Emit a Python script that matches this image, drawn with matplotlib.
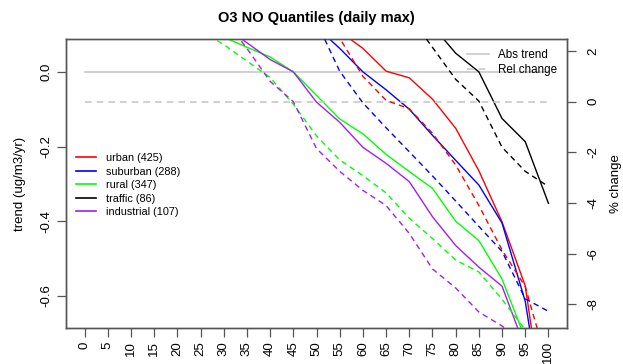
import numpy as np
import matplotlib
matplotlib.use("Agg")
import matplotlib.pyplot as plt
from matplotlib.lines import Line2D

nan = np.nan

quantiles = list(range(0, 101, 5))
tick_labels = [str(q) for q in quantiles]

# absolute trend (ug/m3/yr) per quantile
urban_abs = [nan, nan, nan, nan, nan, nan, nan, nan, nan, nan,
             0.16, 0.108, 0.063, 0.002, -0.016, -0.073, -0.151, -0.265, -0.402, -0.573, -1.0]
suburban_abs = [nan, nan, nan, nan, nan, nan, nan, nan, nan, nan,
                0.12, 0.063, 0.0, -0.048, -0.100, -0.170, -0.237, -0.303, -0.405, -0.615, -1.0]
rural_abs = [nan, nan, nan, nan, nan, 0.13,
             0.093, 0.066, 0.040, 0.0, -0.063, -0.126, -0.166, -0.221, -0.267, -0.312, -0.400, -0.452, -0.555, -0.715, -0.95]
traffic_abs = [nan, nan, nan, nan, nan, nan, nan, nan, nan, nan, nan, nan, nan, nan,
               0.2, 0.123, 0.050, 0.0, -0.125, -0.187, -0.352]
industrial_abs = [nan, nan, nan, nan, nan, nan,
                  0.123, 0.078, 0.033, 0.0, -0.081, -0.135, -0.202, -0.245, -0.294, -0.388, -0.465, -0.523, -0.574, -0.74, -0.95]

# relative change (%) per quantile
urban_rel = [nan, nan, nan, nan, nan, nan, nan, nan, nan, nan,
             4.2, 2.5, 1.0, 0.05, -0.28, -1.25, -2.5, -4.1, -5.85, -7.3, -10.5]
suburban_rel = [nan, nan, nan, nan, nan, nan, nan, nan, nan, nan,
                3.15, 1.2, -0.05, -1.03, -1.98, -2.93, -3.92, -4.92, -5.91, -7.78, -8.27]
rural_rel = [nan, nan, nan, nan, nan, 2.8,
             2.25, 1.6, 0.95, -0.1, -1.35, -2.3, -2.92, -3.6, -4.6, -5.4, -6.25, -6.72, -7.8, -9.0, -10.0]
traffic_rel = [nan, nan, nan, nan, nan, nan, nan, nan, nan, nan, nan, nan, nan, nan,
               3.4, 2.14, 0.88, 0.02, -1.8, -2.75, -3.35]
industrial_rel = [nan, nan, nan, nan, nan, nan,
                  3.3, 2.1, 0.8, 0.0, -1.85, -2.75, -3.5, -4.1, -5.2, -6.6, -7.35, -8.3, -8.85, -9.6, -10.5]

groups = ["urban", "suburban", "rural", "traffic", "industrial"]
counts = [425, 288, 347, 86, 107]
colors = ["#FF0000", "#0000FF", "#00FF00", "#000000", "#A020F0"]
abs_series = [urban_abs, suburban_abs, rural_abs, traffic_abs, industrial_abs]
rel_series = [urban_rel, suburban_rel, rural_rel, traffic_rel, industrial_rel]

plt.rcParams['font.family'] = ['Liberation Sans', 'DejaVu Sans']

fig = plt.figure(figsize=(6.23, 3.64), dpi=100)
ax = fig.add_axes([66 / 623, 1 - 328 / 364, (567 - 66) / 623, (328 - 39) / 364])
ax2 = ax.twinx()

edge = "#555555"
grey = "#C8C8C8"
dash = (0, (4, 3))

ax.set_xlim(-4, 104)
ax.set_ylim(-0.686, 0.088)
ax2.set_ylim(-8.93, 2.47)

# reference lines
ax.plot([quantiles[0], quantiles[-1]], [0, 0], color=grey, lw=1.2, zorder=1)
ax2.plot([quantiles[0], quantiles[-1]], [0, 0], color=grey, lw=1.2, ls=dash, zorder=1)

for vals, col in zip(abs_series, colors):
    ax.plot(quantiles, vals, color=col, lw=1.0, zorder=3)
for vals, col in zip(rel_series, colors):
    ax2.plot(quantiles, vals, color=col, lw=1.0, ls=dash, zorder=3)

ax.set_xticks(quantiles)
ax.set_xticklabels(tick_labels, rotation=90, fontsize=9.5)
ax.set_yticks([-0.6, -0.4, -0.2, 0.0])
ax.set_yticklabels(["-0.6", "-0.4", "-0.2", "0.0"], rotation=90, va="center", fontsize=9.5)
ax2.set_yticks([-8, -6, -4, -2, 0, 2])
ax2.set_yticklabels(["-8", "-6", "-4", "-2", "0", "2"], rotation=90, va="center", fontsize=9.5)

for a in (ax, ax2):
    for s in a.spines.values():
        s.set_color(edge)
        s.set_linewidth(1.0)
    a.tick_params(length=6.5, width=0.9, color=edge, pad=3)
ax2.tick_params(axis="y", pad=8)

ax.set_ylabel("trend (ug/m3/yr)", fontsize=9.5, labelpad=11)
ax2.set_ylabel("% change", fontsize=9.5, rotation=90, labelpad=8)
ax.set_title("O3 NO Quantiles (daily max)", fontsize=10.5, fontweight="bold", pad=12)

handles = [Line2D([], [], color=c, lw=1.2) for c in colors]
labels = [f"{g} ({n})" for g, n in zip(groups, counts)]
leg1 = ax2.legend(handles, labels, loc="upper left", frameon=False, fontsize=7.8,
                  handlelength=1.85, handletextpad=0.85, labelspacing=0.32,
                  borderaxespad=0.0)
leg1.set_bbox_to_anchor((0.012, 0.62), transform=ax2.transAxes)
ax2.add_artist(leg1)

h2 = [Line2D([], [], color=grey, lw=1.2), Line2D([], [], color=grey, lw=1.2, ls=dash)]
ax2.legend(h2, ["Abs trend", "Rel change"], loc="upper right", bbox_to_anchor=(0.99, 0.98),
           frameon=False, fontsize=8.4, handlelength=1.9, handletextpad=0.75,
           labelspacing=0.2, borderaxespad=0.0)

fig.savefig("out.png", dpi=100)
